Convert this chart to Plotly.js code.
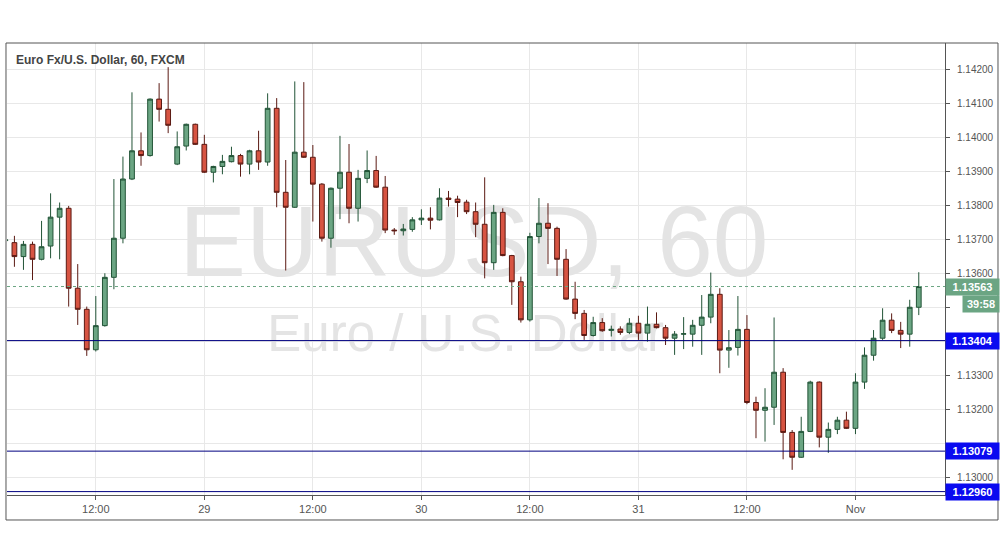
<!DOCTYPE html>
<html>
<head>
<meta charset="utf-8">
<script src="https://cdn.plot.ly/plotly-3.0.1.min.js"></script>
<style>
html,body{margin:0;padding:0;background:#fff;}
#chart{width:1002px;height:557px;}
</style>
</head>
<body>
<div id="chart"></div>
<script>
// hour index (0 = first "12:00" tick)
const hours = [-10,-9,-8,-7,-6,-5,-4,-3,-2,-1,
  0,1,2,3,4,5,6,7,8,9,
  10,11,12,13,14,15,16,17,18,19,
  20,21,22,23,24,25,26,27,28,29,
  30,31,32,33,34,35,36,37,38,39,
  40,41,42,43,44,45,46,47,48,49,
  50,51,52,53,54,55,56,57,58,59,
  60,61,62,63,64,65,66,67,68,69,
  70,71,72,73,74,75,76,77,78,79,
  80,81,82,83,84,85,86,87,88,89,
  90,91];

const opens = [1.13698,1.13692,1.13651,1.13687,1.13643,1.13682,1.13767,1.13793,1.13558,1.13496,
  1.13377,1.13448,1.13590,1.13705,1.13879,1.13962,1.13948,1.14114,1.14084,1.13923,
  1.13976,1.14040,1.13981,1.13899,1.13916,1.13930,1.13948,1.13923,1.13962,1.13929,
  1.14087,1.13840,1.13796,1.13958,1.13943,1.13864,1.13705,1.13852,1.13899,1.13793,
  1.13881,1.13904,1.13855,1.13729,1.13727,1.13731,1.13759,1.13764,1.13759,1.13823,
  1.13820,1.13811,1.13783,1.13746,1.13633,1.13781,1.13654,1.13577,1.13465,1.13710,
  1.13749,1.13734,1.13643,1.13526,1.13484,1.13419,1.13457,1.13434,1.13438,1.13428,
  1.13455,1.13426,1.13452,1.13442,1.13411,1.13423,1.13423,1.13449,1.13473,1.13540,
  1.13376,1.13384,1.13437,1.13222,1.13199,1.13208,1.13311,1.13134,1.13061,1.13137,
  1.13282,1.13120,1.13143,1.13170,1.13146,1.13282,1.13361,1.13411,1.13464,1.13434,
  1.13423,1.13502];

const highs = [1.13712,1.13712,1.13697,1.13695,1.13756,1.13837,1.13810,1.13800,1.13629,1.13504,
  1.13535,1.13602,1.13879,1.13945,1.14134,1.14016,1.14116,1.14161,1.14208,1.14019,
  1.14042,1.14042,1.14009,1.13918,1.13950,1.13974,1.13953,1.13965,1.14021,1.14131,
  1.14117,1.13935,1.14166,1.14164,1.13979,1.13867,1.13854,1.14006,1.13982,1.13906,
  1.13963,1.13947,1.13888,1.13735,1.13747,1.13767,1.13790,1.13796,1.13852,1.13844,
  1.13830,1.13818,1.13810,1.13884,1.13803,1.13793,1.13656,1.13592,1.13721,1.13823,
  1.13808,1.13739,1.13673,1.13577,1.13494,1.13474,1.13470,1.13448,1.13446,1.13470,
  1.13477,1.13504,1.13487,1.13450,1.13432,1.13473,1.13465,1.13538,1.13604,1.13558,
  1.13435,1.13535,1.13479,1.13239,1.13264,1.13472,1.13323,1.13141,1.13180,1.13286,
  1.13284,1.13163,1.13180,1.13195,1.13308,1.13384,1.13435,1.13499,1.13484,1.13459,
  1.13524,1.13605];

const lows = [1.13690,1.13621,1.13612,1.13582,1.13640,1.13646,1.13643,1.13504,1.13450,1.13359,
  1.13372,1.13445,1.13555,1.13690,1.13876,1.13918,1.13945,1.14048,1.14014,1.13920,
  1.13963,1.13979,1.13897,1.13869,1.13893,1.13928,1.13886,1.13893,1.13906,1.13918,
  1.13796,1.13610,1.13794,1.13941,1.13754,1.13695,1.13677,1.13761,1.13749,1.13754,
  1.13867,1.13853,1.13720,1.13715,1.13713,1.13724,1.13744,1.13731,1.13757,1.13798,
  1.13767,1.13776,1.13708,1.13587,1.13612,1.13652,1.13509,1.13457,1.13460,1.13690,
  1.13629,1.13594,1.13524,1.13467,1.13406,1.13416,1.13430,1.13416,1.13421,1.13423,
  1.13406,1.13401,1.13440,1.13391,1.13362,1.13379,1.13386,1.13362,1.13455,1.13308,
  1.13324,1.13360,1.13217,1.13117,1.13107,1.13156,1.13055,1.13024,1.13059,1.13135,
  1.13090,1.13074,1.13129,1.13144,1.13129,1.13262,1.13345,1.13406,1.13426,1.13382,
  1.13386,1.13479];

const closes = [1.13700,1.13651,1.13687,1.13643,1.13680,1.13767,1.13793,1.13558,1.13496,1.13377,
  1.13448,1.13590,1.13705,1.13879,1.13962,1.13948,1.14114,1.14084,1.14037,1.13974,
  1.14040,1.13981,1.13899,1.13916,1.13931,1.13948,1.13923,1.13962,1.13929,1.14087,
  1.13840,1.13796,1.13958,1.13943,1.13864,1.13705,1.13852,1.13899,1.13793,1.13881,
  1.13904,1.13855,1.13729,1.13727,1.13732,1.13759,1.13764,1.13758,1.13823,1.13819,
  1.13810,1.13783,1.13746,1.13633,1.13781,1.13654,1.13577,1.13465,1.13710,1.13749,
  1.13734,1.13643,1.13526,1.13484,1.13419,1.13457,1.13433,1.13437,1.13428,1.13455,
  1.13426,1.13452,1.13442,1.13411,1.13423,1.13424,1.13449,1.13473,1.13540,1.13376,
  1.13383,1.13437,1.13222,1.13199,1.13208,1.13311,1.13134,1.13061,1.13137,1.13282,
  1.13120,1.13143,1.13170,1.13146,1.13282,1.13361,1.13411,1.13464,1.13434,1.13423,
  1.13502,1.13563];

const xTickVals = [0,12,24,36,48,60,72,84];
const xTickText = ["12:00","29","12:00","30","12:00","31","12:00","Nov"];
const yTickVals = [1.130,1.131,1.132,1.133,1.134,1.135,1.136,1.137,1.138,1.139,1.140,1.141,1.142];
// labels hidden behind the price boxes in the reference are left blank
const yTickText = ["1.13000","","1.13200","1.13300","","","1.13600","1.13700","1.13800","1.13900","1.14000","1.14100","1.14200"];

const lastPrice = 1.13563;
const levels = [1.13404, 1.13079, 1.12960];
const levelText = ["1.13404", "1.13079", "1.12960"];
const countdown = "39:58";
const titleText = "Euro Fx/U.S. Dollar, 60, FXCM";
const wmMain = "EURUSD, 60";
const wmSub = "Euro / U.S. Dollar";

const XR = [-9.82, 93.9];
const YR = [1.12950, 1.14279];
const FONT = "Liberation Sans, Arial, sans-serif";

const traces = [
  {type:"scatter", mode:"text", x:[41.8], y:[1.13666], text:[wmMain],
   textfont:{family:FONT, size:100, color:"#e4e4e4"}, hoverinfo:"skip", showlegend:false, xaxis:"x", yaxis:"y"},
  {type:"scatter", mode:"text", x:[40.9], y:[1.13410], text:[wmSub],
   textfont:{family:FONT, size:51, color:"#e4e4e4"}, hoverinfo:"skip", showlegend:false, xaxis:"x", yaxis:"y"},
  {type:"candlestick", x:hours, open:opens, high:highs, low:lows, close:closes,
   xaxis:"x2", yaxis:"y2", showlegend:false, whiskerwidth:0,
   increasing:{line:{color:"#225437", width:1}, fillcolor:"#6ba583"},
   decreasing:{line:{color:"#5b1a13", width:1}, fillcolor:"#d75442"}}
];

const shapes = [];
shapes.push({type:"line", xref:"paper", yref:"y", x0:0, x1:1, y0:lastPrice, y1:lastPrice,
  line:{color:"#6ba583", width:1, dash:"dot"}});
levels.forEach(v => shapes.push({type:"line", xref:"paper", yref:"y", x0:0, x1:1, y0:v, y1:v,
  line:{color:"#000080", width:1}}));
// frame
shapes.push({type:"rect", xref:"paper", yref:"paper", x0:-0.00107, x1:1.0565, y0:-0.0553, y1:1,
  line:{color:"#555555", width:1}, fillcolor:"rgba(0,0,0,0)"});

const annotations = [];
annotations.push({xref:"paper", yref:"paper", x:0.0075, y:0.9624, xanchor:"left", yanchor:"middle",
  text:titleText, showarrow:false, font:{family:FONT, size:12, color:"#444444", weight:"bold"}});
annotations.push({xref:"paper", yref:"y", x:1, y:lastPrice, xanchor:"left", yanchor:"middle",
  text:lastPrice.toFixed(5), showarrow:false, bgcolor:"#6ba583", width:49, height:12, borderpad:2,
  font:{family:FONT, size:11, color:"#ffffff", weight:"bold"}});
annotations.push({xref:"paper", yref:"y", x:1.0181, y:1.13512, xanchor:"left", yanchor:"middle",
  text:countdown, showarrow:false, bgcolor:"#6ba583", width:32, height:12, borderpad:2,
  font:{family:FONT, size:11, color:"#ffffff", weight:"bold"}});
levels.forEach((v,i) => annotations.push({xref:"paper", yref:"y", x:1, y:v, xanchor:"left", yanchor:"middle",
  text:levelText[i], showarrow:false, bgcolor:"#0a0af0", width:49, height:12, borderpad:2,
  font:{family:FONT, size:11, color:"#ffffff", weight:"bold"}}));

const layout = {
  width:1002, height:557,
  margin:{l:7, r:57, t:43, b:62, pad:0},
  paper_bgcolor:"#ffffff", plot_bgcolor:"#ffffff",
  showlegend:false,
  boxgap:0.25,
  xaxis:{range:XR, tickmode:"array", tickvals:xTickVals, ticktext:xTickText,
    showgrid:true, gridcolor:"#e8e8e8", gridwidth:1, zeroline:false,
    ticks:"outside", ticklen:4, tickcolor:"#555555",
    showline:true, linecolor:"#555555", linewidth:1,
    tickfont:{family:FONT, size:11, color:"#555555"},
    rangeslider:{visible:false}, fixedrange:true},
  yaxis:{range:YR, side:"right", tickmode:"array", tickvals:yTickVals, ticktext:yTickText,
    showgrid:true, gridcolor:"#e8e8e8", gridwidth:1, zeroline:false,
    ticks:"outside", ticklen:4, tickcolor:"#555555", ticklabelstandoff:5,
    showline:true, linecolor:"#555555", linewidth:1,
    tickfont:{family:FONT, size:10, color:"#555555"}, fixedrange:true},
  xaxis2:{range:XR, overlaying:"x", visible:false, rangeslider:{visible:false}, fixedrange:true},
  yaxis2:{range:YR, overlaying:"y", side:"right", visible:false, fixedrange:true},
  shapes:shapes,
  annotations:annotations
};

Plotly.newPlot("chart", traces, layout, {displayModeBar:false, staticPlot:true});
</script>
</body>
</html>
